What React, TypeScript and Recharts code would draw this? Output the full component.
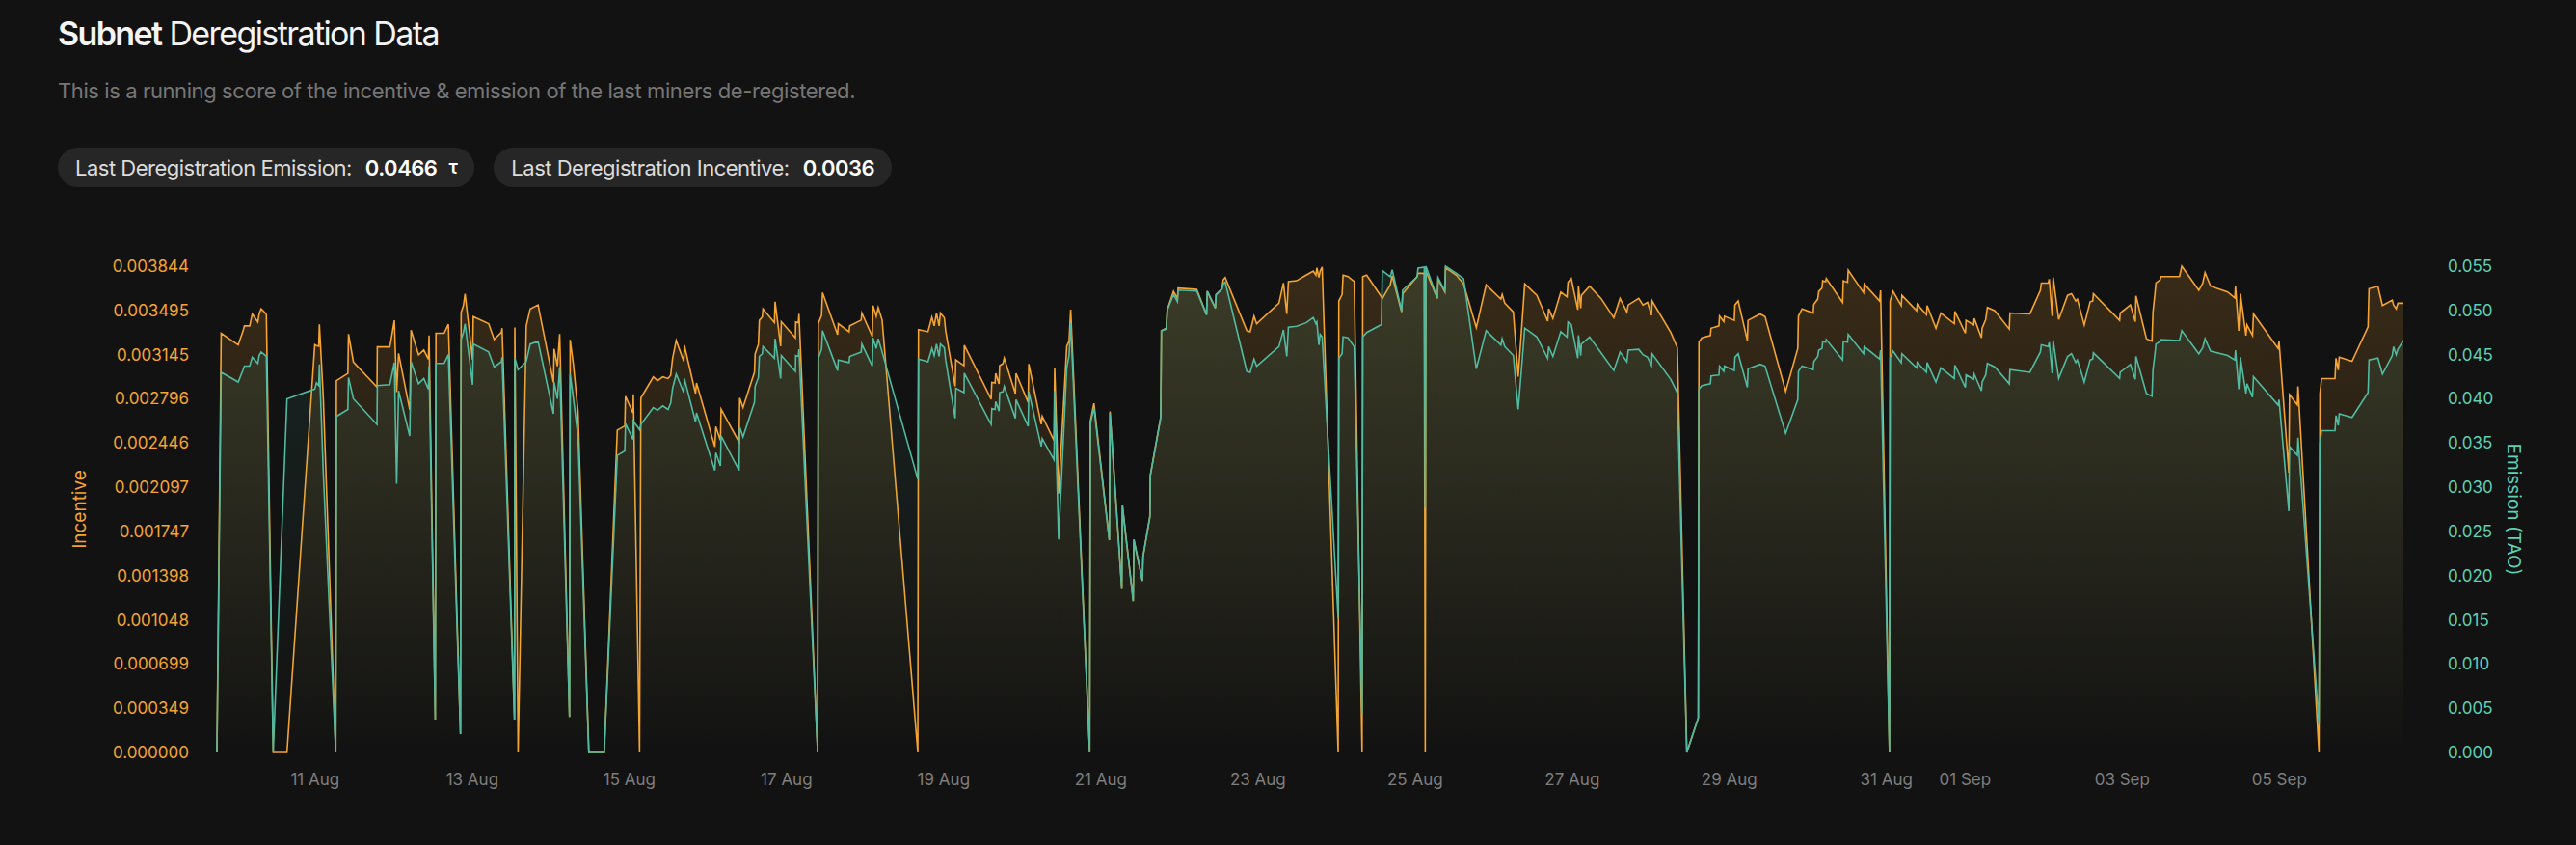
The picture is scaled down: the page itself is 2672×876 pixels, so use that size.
import React from 'react';
import { ComposedChart, Area, XAxis, YAxis } from 'recharts';

// hours after 11 Aug 00:00 for each deregistration sample
const hours = [
  -30.0, -28.7, -23.5, -22.0, -21.6, -20.0, -19.2, -17.5, -17.1, -16.5,
  -15.5, -14.9, -12.8, -8.6, -0.1, 0.4, 1.1, 1.3, 2.5, 6.3,
  6.5, 10.0, 10.2, 11.7, 18.9, 19.0, 22.8, 23.2, 24.2, 24.9,
  25.5, 28.9, 29.3, 31.6, 33.2, 34.6, 34.8, 36.7, 36.9, 39.4,
  40.7, 44.4, 44.6, 45.3, 45.8, 48.1, 48.3, 53.0, 54.7, 56.9,
  57.1, 60.9, 61.0, 62.0, 64.5, 65.7, 68.1, 72.8, 73.0, 74.0,
  74.7, 77.7, 77.9, 78.9, 80.3, 83.6, 88.3, 92.3, 94.6, 94.8,
  97.1, 97.2, 99.1, 99.5, 103.3, 104.6, 106.2, 107.8, 108.6, 109.2,
  110.3, 112.6, 112.8, 116.2, 116.5, 122.1, 122.4, 123.8, 124.0, 129.5,
  129.7, 130.7, 134.2, 134.4, 135.4, 135.7, 136.6, 136.8, 140.3, 140.5,
  142.2, 142.4, 146.7, 146.8, 147.6, 147.8, 153.5, 153.7, 154.7, 155.0,
  159.6, 159.8, 163.1, 163.3, 166.8, 167.0, 170.2, 170.4, 171.4, 172.0,
  173.2, 184.1, 184.3, 187.2, 188.4, 189.1, 189.8, 190.6, 191.0, 192.2,
  192.6, 195.5, 195.7, 198.2, 198.3, 206.5, 206.7, 207.7, 207.9, 208.9,
  209.1, 210.1, 210.5, 213.9, 214.1, 217.8, 218.0, 221.8, 222.1, 225.7,
  225.9, 227.1, 229.6, 230.3, 230.8, 236.6, 236.8, 237.9, 242.6, 242.8,
  246.4, 246.6, 249.9, 250.1, 252.7, 252.9, 255.0, 255.1, 258.3, 258.5,
  260.0, 260.3, 262.2, 263.4, 263.6, 269.3, 272.3, 272.5, 275.0, 275.2,
  277.0, 277.4, 278.0, 284.6, 285.6, 286.8, 287.6, 294.4, 295.8, 296.8,
  297.3, 299.8, 302.7, 304.9, 305.7, 306.0, 306.6, 307.0, 307.6, 312.5,
  312.7, 313.7, 314.0, 315.5, 317.4, 319.8, 320.0, 321.2, 325.7, 326.0,
  328.4, 329.0, 331.9, 332.2, 336.6, 336.9, 338.8, 339.1, 339.3, 342.8,
  343.0, 345.1, 345.3, 348.6, 350.8, 354.7, 357.7, 362.2, 362.6, 363.4,
  366.0, 367.5, 369.5, 373.2, 376.5, 376.8, 378.1, 380.5, 382.4, 382.7,
  383.7, 385.7, 385.9, 386.6, 386.8, 389.3, 392.8, 396.7, 398.6, 400.7,
  401.1, 404.3, 405.6, 407.0, 408.2, 408.4, 414.1, 416.1, 419.0, 422.5,
  422.7, 423.6, 426.2, 426.4, 428.8, 429.0, 430.3, 430.5, 433.5, 433.7,
  434.7, 437.5, 437.7, 441.4, 442.9, 449.2, 452.9, 453.1, 454.2, 457.6,
  457.8, 459.0, 459.3, 460.3, 460.5, 461.4, 461.6, 466.6, 466.8, 468.1,
  468.3, 473.0, 473.2, 477.9, 478.2, 480.9, 481.1, 482.0, 484.5, 484.7,
  489.2, 489.4, 492.2, 492.4, 495.1, 496.6, 500.7, 500.9, 504.1, 504.3,
  506.6, 506.8, 509.0, 509.2, 510.3, 510.8, 513.1, 517.5, 517.7, 523.8,
  527.0, 527.3, 529.4, 529.7, 530.6, 530.9, 532.6, 535.3, 536.5, 537.8,
  538.3, 540.4, 542.2, 543.0, 543.2, 551.2, 551.4, 554.5, 556.0, 556.2,
  559.4, 561.1, 561.4, 562.0, 562.3, 563.6, 563.8, 569.5, 570.2, 575.4,
  576.6, 577.3, 579.0, 584.2, 586.4, 586.6, 587.6, 588.1, 589.8, 590.1,
  591.8, 592.1, 599.6, 599.9, 602.9, 603.1, 605.5, 605.7, 612.1, 612.4,
  612.9, 617.0, 617.3, 618.0, 618.3, 622.2, 627.1, 627.4, 630.1, 631.5,
  634.5, 634.9, 635.7, 636.2, 637.9,
];

const incentive = [
  0, 0.003314, 0.003222, 0.003334, 0.003372, 0.003372, 0.003467, 0.003403, 0.003467, 0.003507,
  0.003482, 0.003461, 0, 0, 0.003224, 0.003217, 0.003211, 0.003385, 0.002803, 0,
  0.002939, 0.002997, 0.003308, 0.003087, 0.002888, 0.003206, 0.003206, 0.003262, 0.003416, 0.002849,
  0.003155, 0.002709, 0.003339, 0.003143, 0.003181, 0.003109, 0.003296, 0.00026, 0.003314, 0.003314,
  0.003385, 0.000145, 0.003479, 0.003533, 0.003625, 0.003104, 0.003446, 0.00339, 0.003265, 0.003321,
  0.003354, 0.00026, 0.003359, 0, 0.003372, 0.003507, 0.003538, 0.002926, 0.003191, 0.003053,
  0.003308, 0.000281, 0.003262, 0.003066, 0.002696, 0, 0, 0.002548, 0.002581, 0.002816,
  0.002683, 0.002831, 0, 0.002803, 0.002969, 0.002939, 0.002969, 0.002956, 0.002982, 0.003117,
  0.003257, 0.003092, 0.003219, 0.002837, 0.002921, 0.002416, 0.002576, 0.002467, 0.002714, 0.002454,
  0.002803, 0.002727, 0.003007, 0.00315, 0.003227, 0.003416, 0.003444, 0.003507, 0.003398, 0.003563,
  0.003211, 0.003405, 0.003278, 0.003403, 0.003398, 0.003467, 0, 0.00339, 0.003456, 0.003635,
  0.003303, 0.00339, 0.003326, 0.003372, 0.003418, 0.003474, 0.003288, 0.003533, 0.003449, 0.003518,
  0.003418, 0, 0.003342, 0.003326, 0.003441, 0.003372, 0.003474, 0.003372, 0.003474, 0.003436,
  0.003334, 0.002895, 0.003104, 0.003058, 0.003219, 0.002793, 0.002926, 0.002921, 0.002997, 0.002913,
  0.003058, 0.003074, 0.003117, 0.002837, 0.002997, 0.002768, 0.003071, 0.002594, 0.002658, 0.002467,
  0.003041, 0.002046, 0.003211, 0.003252, 0.0035, 0, 0.002615, 0.00276, 0.001681, 0.002696,
  0.001293, 0.001951, 0.001196, 0.001681, 0.001357, 0.001548, 0.001867, 0.002186, 0.00265, 0.003334,
  0.003354, 0.0035, 0.003645, 0.003589, 0.003671, 0.00366, 0.003461, 0.003645, 0.003512, 0.00362,
  0.003666, 0.003737, 0.003755, 0.003334, 0.003326, 0.003449, 0.00339, 0.003551, 0.003711, 0.003467,
  0.003722, 0.003729, 0.003773, 0.003806, 0.003773, 0.003831, 0.003755, 0.003806, 0.003838, 0,
  0.003569, 0.00362, 0.003773, 0.003762, 0.003722, 0, 0.003762, 0.003773, 0.003602, 0.003589,
  0.003696, 0.003768, 0.003482, 0.003627, 0.003762, 0.003788, 0.003788, 0, 0.003806, 0.003589,
  0.003742, 0.00364, 0.003831, 0.003773, 0.003704, 0.003359, 0.003696, 0.003584, 0.00362, 0.003551,
  0.003482, 0.002972, 0.003704, 0.003614, 0.00341, 0.003507, 0.003431, 0.00364, 0.003602, 0.003717,
  0.003747, 0.0035, 0.003686, 0.003512, 0.003614, 0.003686, 0.003589, 0.003436, 0.003589, 0.003482,
  0.003538, 0.003589, 0.003538, 0.003558, 0.003456, 0.003569, 0.003321, 0.003201, 0, 0.000273,
  0.003245, 0.003278, 0.003296, 0.003354, 0.003372, 0.003449, 0.003405, 0.003449, 0.003416, 0.003538,
  0.003569, 0.003257, 0.003416, 0.003467, 0.003446, 0.002854, 0.003194, 0.003449, 0.003507, 0.003474,
  0.003543, 0.003584, 0.003645, 0.003671, 0.003729, 0.003722, 0.003747, 0.003558, 0.003729, 0.003717,
  0.003813, 0.003635, 0.003704, 0.003569, 0.003653, 0, 0.003569, 0.003645, 0.003533, 0.003614,
  0.003492, 0.003543, 0.003461, 0.003533, 0.003354, 0.003474, 0.00339, 0.003487, 0.003314, 0.003416,
  0.00338, 0.003431, 0.003278, 0.003354, 0.003423, 0.003518, 0.003492, 0.003347, 0.003474, 0.003467,
  0.003653, 0.003711, 0.003711, 0.003742, 0.003449, 0.003755, 0.003423, 0.003614, 0.003627, 0.003569,
  0.003584, 0.00338, 0.003563, 0.003569, 0.003627, 0.003416, 0.003474, 0.003538, 0.003405, 0.003609,
  0.00327, 0.003252, 0.003482, 0.003627, 0.003711, 0.003737, 0.003762, 0.003762, 0.003844, 0.003653,
  0.003711, 0.003793, 0.003686, 0.00364, 0.003594, 0.003686, 0.003334, 0.003627, 0.003296, 0.00338,
  0.003296, 0.003467, 0.003194, 0.003252, 0.002212, 0.002829, 0.002747, 0.002895, 0, 0.002837,
  0.002956, 0.002956, 0.003117, 0.003023, 0.003125, 0.003092, 0.003365, 0.003666, 0.003686, 0.003533,
  0.003576, 0.003538, 0.003507, 0.003551, 0.003551,
];

const emission = [
  0, 0.043, 0.0419, 0.0433, 0.0437, 0.0437, 0.0447, 0.044, 0.0449, 0.0453,
  0.045, 0.0448, 0, 0.04, 0.0411, 0.0418, 0.0415, 0.0439, 0.0316, 0,
  0.038, 0.0388, 0.0424, 0.04, 0.0371, 0.0415, 0.0416, 0.0423, 0.0441, 0.0304,
  0.0409, 0.0358, 0.0442, 0.0417, 0.0423, 0.0411, 0.0437, 0.0037, 0.044, 0.044,
  0.045, 0.0021, 0.0467, 0.0475, 0.0485, 0.0416, 0.0462, 0.0453, 0.0436, 0.0442,
  0.0447, 0.0037, 0.0446, 0.0433, 0.0442, 0.0462, 0.0465, 0.0383, 0.0419, 0.04,
  0.0436, 0.004, 0.0428, 0.04, 0.0357, 0, 0, 0.0336, 0.0341, 0.0372,
  0.0354, 0.0375, 0.0365, 0.0371, 0.039, 0.0387, 0.0392, 0.0388, 0.0395, 0.0412,
  0.0428, 0.0407, 0.0423, 0.0374, 0.0384, 0.0319, 0.0339, 0.0324, 0.0358, 0.0319,
  0.0368, 0.0357, 0.0396, 0.0414, 0.0424, 0.0448, 0.0451, 0.0459, 0.0446, 0.0468,
  0.0423, 0.0449, 0.0431, 0.0449, 0.0448, 0.0456, 0, 0.0446, 0.0456, 0.0477,
  0.0432, 0.0444, 0.0441, 0.0448, 0.0453, 0.0462, 0.0437, 0.0469, 0.0457, 0.0468,
  0.0453, 0.0309, 0.0445, 0.0442, 0.0457, 0.0449, 0.0462, 0.0448, 0.0462, 0.0458,
  0.0444, 0.0378, 0.0412, 0.0407, 0.0429, 0.0371, 0.0389, 0.0388, 0.0397, 0.0386,
  0.0407, 0.0408, 0.0414, 0.0378, 0.0399, 0.0369, 0.0408, 0.0346, 0.0355, 0.0331,
  0.0409, 0.0241, 0.0435, 0.0449, 0.0486, 0, 0.0372, 0.039, 0.024, 0.0384,
  0.0185, 0.0279, 0.0171, 0.0241, 0.0194, 0.0222, 0.0267, 0.0313, 0.0379, 0.0477,
  0.0479, 0.05, 0.0518, 0.051, 0.0523, 0.0522, 0.0495, 0.0522, 0.0503, 0.0518,
  0.0524, 0.053, 0.0532, 0.0431, 0.043, 0.0445, 0.0437, 0.0459, 0.0478, 0.0448,
  0.0481, 0.0482, 0.0486, 0.0492, 0.0485, 0.0487, 0.0461, 0.0473, 0.047, 0.0152,
  0.0446, 0.0451, 0.047, 0.0469, 0.0459, 0.0043, 0.047, 0.0475, 0.0484, 0.0545,
  0.0538, 0.0546, 0.0499, 0.0523, 0.0538, 0.0548, 0.0549, 0.0277, 0.055, 0.0514,
  0.0537, 0.0522, 0.055, 0.0542, 0.0536, 0.0434, 0.0477, 0.0461, 0.0468, 0.0459,
  0.0449, 0.0388, 0.048, 0.047, 0.0446, 0.0459, 0.0448, 0.0476, 0.047, 0.0487,
  0.0484, 0.0446, 0.0472, 0.0449, 0.0462, 0.047, 0.0452, 0.0432, 0.0453, 0.0442,
  0.0455, 0.0456, 0.045, 0.0447, 0.0438, 0.0451, 0.0422, 0.0407, 0, 0.0039,
  0.0411, 0.0415, 0.0417, 0.0426, 0.0427, 0.0437, 0.0431, 0.0437, 0.0432, 0.0447,
  0.0451, 0.0413, 0.0434, 0.0439, 0.0437, 0.0361, 0.0399, 0.0431, 0.0437, 0.0433,
  0.0442, 0.0448, 0.0455, 0.0457, 0.0465, 0.0464, 0.0467, 0.0444, 0.0465, 0.0464,
  0.0473, 0.0451, 0.0459, 0.0445, 0.0455, 0, 0.0446, 0.0454, 0.0441, 0.0451,
  0.0435, 0.0441, 0.043, 0.0441, 0.0419, 0.0435, 0.0423, 0.0438, 0.0413, 0.0427,
  0.0422, 0.0428, 0.0409, 0.0419, 0.0427, 0.044, 0.0436, 0.0417, 0.0433, 0.043,
  0.0453, 0.0461, 0.0459, 0.0464, 0.0429, 0.0466, 0.0423, 0.0448, 0.0451, 0.0441,
  0.0444, 0.0419, 0.0444, 0.0445, 0.0452, 0.0423, 0.043, 0.0439, 0.0422, 0.0448,
  0.0406, 0.0403, 0.0433, 0.0451, 0.0462, 0.0465, 0.0467, 0.0466, 0.0477, 0.0451,
  0.0458, 0.0468, 0.0454, 0.0449, 0.0444, 0.0455, 0.0411, 0.0447, 0.0406, 0.0417,
  0.0402, 0.0425, 0.0393, 0.0399, 0.0273, 0.0346, 0.0336, 0.0356, 0.0032, 0.0349,
  0.0364, 0.0364, 0.0381, 0.037, 0.0383, 0.0379, 0.0407, 0.0444, 0.0446, 0.0428,
  0.0449, 0.0459, 0.045, 0.0456, 0.0466,
];

const incentiveTicks = [
  0, 0.000349, 0.000699, 0.001048, 0.001398, 0.001747,
  0.002097, 0.002446, 0.002796, 0.003145, 0.003495, 0.003844,
];
const emissionTicks = [0, 0.005, 0.01, 0.015, 0.02, 0.025, 0.03, 0.035, 0.04, 0.045, 0.05, 0.055];

// day offsets from 11 Aug and their labels
const tickDays = [0, 2, 4, 6, 8, 10, 12, 14, 16, 18, 20, 21, 23, 25];
const tickLabels = [
  '11 Aug', '13 Aug', '15 Aug', '17 Aug', '19 Aug', '21 Aug', '23 Aug',
  '25 Aug', '27 Aug', '29 Aug', '31 Aug', '01 Sep', '03 Sep', '05 Sep',
];

const data = hours.map((h, i) => ({ h, incentive: incentive[i], emission: emission[i] }));

const ORANGE = '#F5A432';
const TEAL = '#51BBA2';
const BG = '#121212';
const FONT = 'Inter, "Noto Sans", sans-serif';

const Pill = ({ label, value, unit }: { label: string; value: string; unit?: string }) => (
  <div
    style={{
      display: 'inline-flex',
      alignItems: 'center',
      height: 41,
      padding: '0 18px',
      borderRadius: 21,
      background: '#262626',
      fontSize: 22,
      letterSpacing: -0.5,
      color: '#dcdcdc',
      marginRight: 20,
      boxSizing: 'border-box',
    }}
  >
    <span>{label}</span>
    <span style={{ color: '#fff', fontWeight: 600, marginLeft: 14 }}>{value}</span>
    {unit && <span style={{ color: '#fff', fontWeight: 600, marginLeft: 12, fontSize: 19 }}>{unit}</span>}
  </div>
);

export default function App() {
  const lastEmission = emission[emission.length - 1].toFixed(4);
  const lastIncentive = incentive[incentive.length - 1].toFixed(4);

  return (
    <div
      style={{
        position: 'fixed',
        left: 0,
        top: 0,
        width: 2672,
        height: 876,
        background: BG,
        fontFamily: FONT,
        overflow: 'hidden',
      }}
    >
      <div style={{ position: 'absolute', left: 0, top: 0 }}>
        <ComposedChart
          width={2672}
          height={876}
          data={data}
          margin={{ top: 276, right: 79, left: 0, bottom: 56 }}
        >
          <defs>
            <linearGradient id="incFill" x1="0" y1="0" x2="0" y2="1">
              <stop offset="0%" stopColor={ORANGE} stopOpacity={0.17} />
              <stop offset="100%" stopColor={ORANGE} stopOpacity={0} />
            </linearGradient>
            <linearGradient id="emFill" x1="0" y1="0" x2="0" y2="1">
              <stop offset="0%" stopColor={TEAL} stopOpacity={0.12} />
              <stop offset="100%" stopColor={TEAL} stopOpacity={0} />
            </linearGradient>
          </defs>
          <XAxis
            dataKey="h"
            type="number"
            domain={['dataMin', 'dataMax']}
            ticks={tickDays.map((d) => d * 24)}
            tickFormatter={(v) => tickLabels[tickDays.indexOf(v / 24)]}
            interval={0}
            axisLine={false}
            tickLine={false}
            tickSize={0}
            tickMargin={22}
            height={40}
            tick={{ fill: '#7d7d7d', fontSize: 17, fontFamily: FONT }}
          />
          <YAxis
            yAxisId="inc"
            orientation="left"
            width={225}
            domain={[0, 0.003844]}
            ticks={incentiveTicks}
            tickFormatter={(v) => v.toFixed(6)}
            interval={0}
            axisLine={false}
            tickLine={false}
            tickSize={0}
            tickMargin={29}
            tick={{ fill: ORANGE, fontSize: 17, fontFamily: FONT }}
          />
          <YAxis
            yAxisId="em"
            orientation="right"
            width={100}
            domain={[0, 0.055]}
            ticks={emissionTicks}
            tickFormatter={(v) => v.toFixed(3)}
            interval={0}
            axisLine={false}
            tickLine={false}
            tickSize={0}
            tickMargin={46}
            tick={{ fill: '#5FD0B4', fontSize: 17, fontFamily: FONT }}
          />
          <Area
            yAxisId="inc"
            type="linear"
            dataKey="incentive"
            stroke={ORANGE}
            strokeWidth={1.6}
            fill="url(#incFill)"
            fillOpacity={1}
            dot={false}
            activeDot={false}
            isAnimationActive={false}
          />
          <Area
            yAxisId="em"
            type="linear"
            dataKey="emission"
            stroke={TEAL}
            strokeWidth={1.6}
            fill="url(#emFill)"
            fillOpacity={1}
            dot={false}
            activeDot={false}
            isAnimationActive={false}
          />
        </ComposedChart>
      </div>

      <div style={{ position: 'absolute', left: 60, top: 14, fontSize: 34, letterSpacing: -1.6, color: '#f4f4f4' }}>
        <span style={{ fontWeight: 600 }}>Subnet</span> Deregistration Data
      </div>
      <div style={{ position: 'absolute', left: 60, top: 81, fontSize: 22, letterSpacing: -0.4, color: '#767676' }}>
        This is a running score of the incentive &amp; emission of the last miners de-registered.
      </div>
      <div style={{ position: 'absolute', left: 60, top: 153, display: 'flex' }}>
        <Pill label="Last Deregistration Emission:" value={lastEmission} unit="τ" />
        <Pill label="Last Deregistration Incentive:" value={lastIncentive} />
      </div>

      <div
        style={{
          position: 'absolute',
          left: 82,
          top: 528,
          transform: 'translate(-50%, -50%) rotate(-90deg)',
          color: ORANGE,
          fontSize: 19,
          whiteSpace: 'nowrap',
        }}
      >
        Incentive
      </div>
      <div
        style={{
          position: 'absolute',
          left: 2607,
          top: 528,
          transform: 'translate(-50%, -50%) rotate(90deg)',
          color: '#5FD0B4',
          fontSize: 19,
          whiteSpace: 'nowrap',
        }}
      >
        Emission (TAO)
      </div>
    </div>
  );
}
